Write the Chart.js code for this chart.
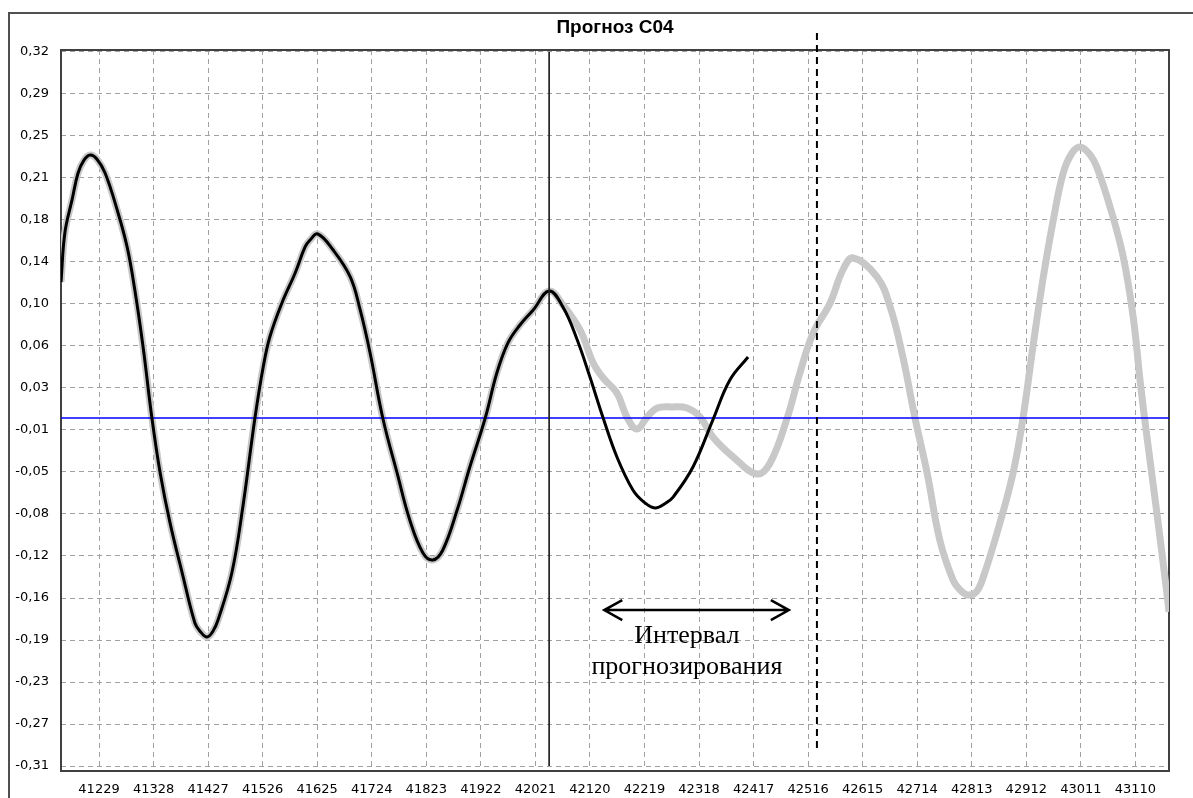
<!DOCTYPE html>
<html>
<head>
<meta charset="utf-8">
<script src="https://cdn.jsdelivr.net/npm/chart.js@4.4.1/dist/chart.umd.min.js"></script>
<style>
html,body{margin:0;padding:0;background:#fff;}
#wrap{width:1193px;height:798px;position:relative;}
</style>
</head>
<body>
<div id="wrap"><canvas id="c"></canvas></div>
<script>
// ---------- data ----------
const chartTitle = 'Прогноз С04';
const intervalText = ['Интервал', 'прогнозирования'];

const yTickLabels = ['0,32','0,29','0,25','0,21','0,18','0,14','0,10','0,06','0,03','-0,01','-0,05','-0,08','-0,12','-0,16','-0,19','-0,23','-0,27','-0,31'];
const xTickLabels = ['41229','41328','41427','41526','41625','41724','41823','41922','42021','42120','42219','42318','42417','42516','42615','42714','42813','42912','43011','43110'];

// common part (history, both series coincide)
const historyDates = [41160,41167,41180,41191,41202,41213,41225,41240,41262,41280,41294,41309,41325,41340,41358,41380,41403,41412,41425,41436,41445,41470,41490,41512,41527,41539,41561,41585,41603,41612,41626,41654,41685,41703,41721,41744,41770,41793,41817,41835,41853,41879,41902,41930,41951,41971,41993,42017,42046];
const historyValues = [0.1197,0.1629,0.1920,0.2157,0.2272,0.2316,0.2281,0.2157,0.1831,0.1506,0.1127,0.0625,0,-0.0484,-0.0925,-0.1365,-0.1805,-0.1875,-0.1928,-0.1875,-0.1779,-0.1365,-0.0784,0,0.0449,0.0713,0.1013,0.1277,0.1506,0.1567,0.1620,0.1479,0.1242,0.0951,0.0572,0,-0.0484,-0.0898,-0.1189,-0.1250,-0.1162,-0.0810,-0.0431,0,0.0396,0.0660,0.0819,0.0951,0.1118];

// black series after the split (actual)
const actualDates = [42071,42097,42120,42144,42169,42198,42218,42238,42258,42271,42307,42343,42374,42407];
const actualValues = [0.0977,0.0687,0.0361,0,-0.0343,-0.0634,-0.0740,-0.0792,-0.0748,-0.0696,-0.0431,-0.0018,0.0335,0.0537];

// gray series after the split (model / forecast)
const modelDates = [42071,42102,42126,42144,42169,42187,42205,42224,42242,42269,42296,42320,42343,42380,42423,42447,42478,42501,42525,42556,42579,42598,42641,42665,42688,42710,42732,42755,42779,42792,42806,42821,42834,42864,42888,42906,42924,42942,42961,42979,42995,43010,43028,43040,43064,43088,43106,43119,43131,43149,43168,43171];
const modelValues = [0.0995,0.0775,0.0484,0.0352,0.0220,0.0009,-0.0097,0.0009,0.0088,0.0097,0.0088,0.0009,-0.0167,-0.0343,-0.0493,-0.0396,0,0.0396,0.0748,0.1013,0.1303,0.1409,0.1242,0.0977,0.0537,0,-0.0484,-0.1074,-0.1426,-0.1514,-0.1558,-0.1532,-0.1400,-0.0925,-0.0484,0,0.0625,0.1215,0.1743,0.2157,0.2333,0.2386,0.2316,0.2210,0.1858,0.1418,0.0889,0.0308,-0.0167,-0.0836,-0.1576,-0.1708];

// axis ranges
const xMin = 41160, xMax = 43171;
const yMin = -0.3108, yMax = 0.3240;
const yTickTop = 0.3225, yTickStep = 0.037;

// reference marks (data units)
const splitDate = 42046, splitTop = 0.3223, splitBottom = -0.3064;
const horizonDate = 42532, horizonTop = 0.3390, horizonBottom = -0.2950;
const intervalStart = 42146, intervalEnd = 42481, arrowLevel = -0.1691;
const textDate = 42296, textLevels = [-0.1981, -0.2254];

// ---------- build ----------
const pts = (xs, ys) => xs.map((v, i) => ({x: v, y: ys[i]}));
const grayData = pts(historyDates.concat(modelDates), historyValues.concat(modelValues));
const blackData = pts(historyDates.concat(actualDates), historyValues.concat(actualValues));

const TICK_FONT = {family: '"DejaVu Sans", Verdana, sans-serif', size: 13};

const decor = {
  id: 'decor',
  beforeDraw(chart) {
    const {ctx, width, height} = chart;
    ctx.save();
    ctx.fillStyle = '#fff';
    ctx.fillRect(0, 0, width, height);
    ctx.strokeStyle = '#505050';
    ctx.lineWidth = 2;
    ctx.beginPath();
    ctx.moveTo(9, height);
    ctx.lineTo(9, 13);
    ctx.lineTo(width, 13);
    ctx.stroke();
    ctx.restore();
  },
  beforeDatasetsDraw(chart) {
    const {ctx, chartArea: a} = chart;
    ctx.save();
    ctx.strokeStyle = '#404040';
    ctx.lineWidth = 2;
    ctx.strokeRect(a.left, a.top, a.right - a.left, a.bottom - a.top);
    ctx.restore();
  },
  afterDraw(chart) {
    const {ctx, chartArea: a, scales: {x, y}} = chart;
    ctx.save();
    // title
    ctx.fillStyle = '#000';
    ctx.font = 'bold 19px "Liberation Sans", Arial, sans-serif';
    ctx.textAlign = 'center';
    ctx.textBaseline = 'alphabetic';
    ctx.fillText(chartTitle, (a.left + a.right) / 2, 33);
    // double arrow
    const x1 = x.getPixelForValue(intervalStart);
    const x2 = x.getPixelForValue(intervalEnd);
    const ay = y.getPixelForValue(arrowLevel);
    ctx.strokeStyle = '#000';
    ctx.lineWidth = 2.5;
    ctx.beginPath();
    ctx.moveTo(x1, ay); ctx.lineTo(x2, ay);
    ctx.moveTo(x1 + 18, ay - 10); ctx.lineTo(x1, ay); ctx.lineTo(x1 + 18, ay + 10);
    ctx.moveTo(x2 - 18, ay - 10); ctx.lineTo(x2, ay); ctx.lineTo(x2 - 18, ay + 10);
    ctx.stroke();
    // text
    ctx.font = '26px "Liberation Serif", "Times New Roman", serif';
    const tx = x.getPixelForValue(textDate);
    intervalText.forEach((t, i) => ctx.fillText(t, tx, y.getPixelForValue(textLevels[i])));
    ctx.restore();
  }
};

new Chart(document.getElementById('c'), {
  type: 'line',
  data: {
    datasets: [
      {data: pts([splitDate, splitDate], [splitTop, splitBottom]), borderColor: '#202020', borderWidth: 1, pointRadius: 0, order: -1},
      {data: pts([horizonDate, horizonDate], [horizonTop, horizonBottom]), borderColor: '#000', borderWidth: 2, borderDash: [7, 5], pointRadius: 0, clip: false, order: -2},
      {data: blackData, borderColor: '#000', borderWidth: 3, pointRadius: 0, tension: 0.4, clip: 0, order: 0},
      {data: pts([xMin, xMax], [0, 0]), borderColor: '#0000ff', borderWidth: 1.5, pointRadius: 0, clip: 0, order: 1},
      {data: grayData, borderColor: '#c8c8c8', borderWidth: 7, pointRadius: 0, tension: 0.4, clip: 0, order: 2}
    ]
  },
  options: {
    responsive: true,
    maintainAspectRatio: false,
    animation: false,
    events: [],
    layout: {padding: {left: 0, right: 24, top: 50, bottom: 0}},
    plugins: {legend: {display: false}, tooltip: {enabled: false}, title: {display: false}},
    scales: {
      x: {
        type: 'linear',
        min: xMin, max: xMax,
        bounds: 'data',
        afterFit(s) { s.height = 27; },
        afterBuildTicks(s) { s.ticks = xTickLabels.map(l => ({value: Number(l)})); },
        grid: {color: '#a0a0a0', lineWidth: 1, drawTicks: false},
        border: {display: false, dash: [5, 4]},
        ticks: {font: TICK_FONT, color: '#000', padding: 11, maxRotation: 0, autoSkip: false,
          callback: (v, i) => xTickLabels[i]}
      },
      y: {
        type: 'linear',
        min: yMin, max: yMax,
        bounds: 'data',
        afterFit(s) { s.width = 61; },
        afterBuildTicks(s) {
          s.ticks = yTickLabels.map((l, i) => ({value: yTickTop - i * yTickStep})).reverse();
        },
        grid: {color: '#a0a0a0', lineWidth: 1, drawTicks: false},
        border: {display: false, dash: [5, 4]},
        ticks: {font: TICK_FONT, color: '#000', padding: 12, autoSkip: false,
          callback: (v, i) => yTickLabels[yTickLabels.length - 1 - i]}
      }
    }
  },
  plugins: [decor]
});
</script>
</body>
</html>
